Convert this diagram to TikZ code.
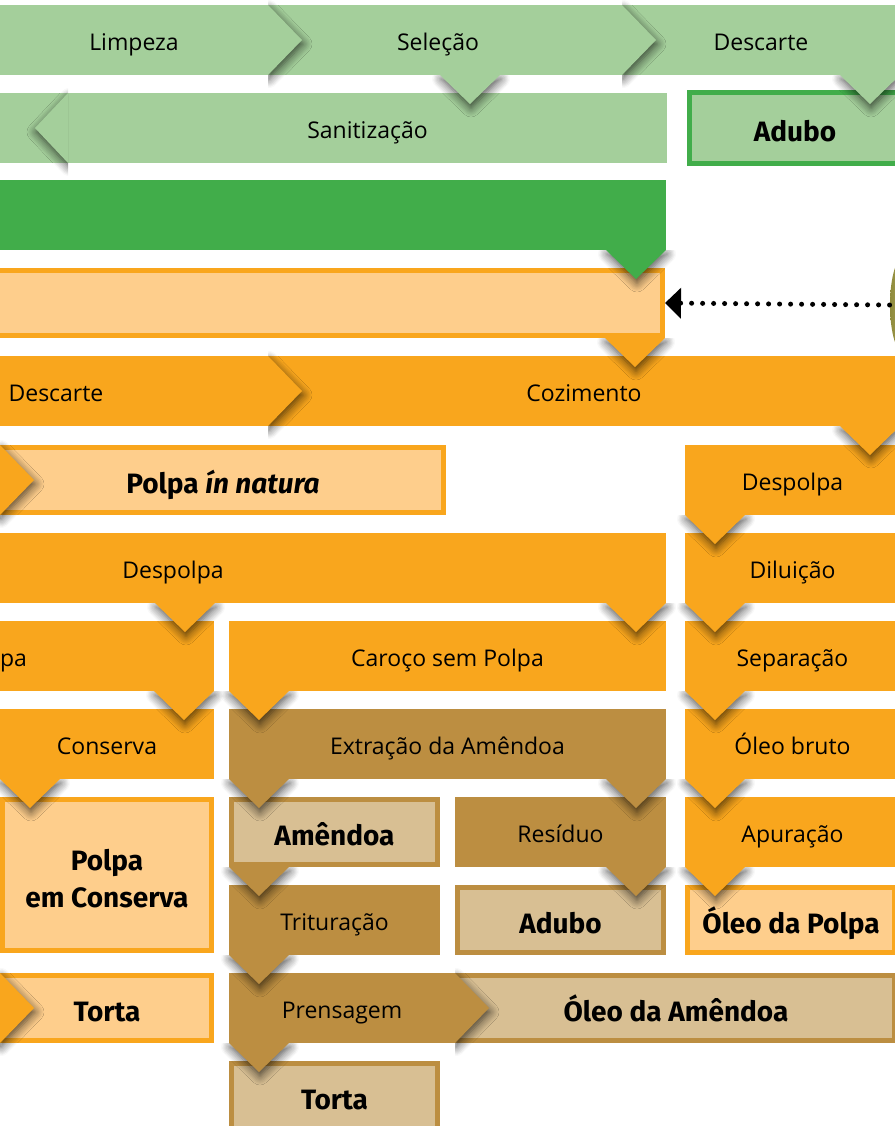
\documentclass[tikz,border=0pt]{standalone}
\usepackage{fontspec}
\setmainfont{Open Sans}
\newfontfamily\labelfont{Fira Sans}
\usetikzlibrary{shapes.geometric, arrows.meta, shadows.blur}

\definecolor{lgreen}{HTML}{A4CF9B}
\definecolor{dgreen}{HTML}{41AD4A}
\definecolor{orng}{HTML}{F9A61D}
\definecolor{lorng}{HTML}{FECE8C}
\definecolor{brwn}{HTML}{BC8E41}
\definecolor{tan}{HTML}{D8BF93}
\definecolor{olivefruit}{HTML}{8E8A3C}
\definecolor{yellowfruit}{HTML}{C9C06A}

% pointer below a box: base corner, colour
\newcommand\downtip[2]{%
  \begin{scope}
    \clip (#1) ++(-20,0) rectangle ++(100,60);
    \fill[#2, tipshadow] (#1) -- ++(30,29) -- ++(30,-29) -- cycle;
  \end{scope}}
% chevron tip to the right: top of its base, colour
\newcommand\sidetip[2]{%
  \begin{scope}
    \clip (#1) ++(0,-20) rectangle ++(60,110);
    \fill[#2, tipshadow] (#1) -- ++(34,35) -- ++(-34,35) -- cycle;
  \end{scope}}

\begin{document}
\begin{tikzpicture}[x=0.5pt, y=-0.5pt,
    band/.style = {rectangle, minimum height=35pt, inner sep=0pt, outer sep=0pt,
                   text height=10pt, text depth=0pt, font=\fontsize{11.5}{14}\selectfont},
    framed/.style = {rectangle, draw, line width=2.5pt, minimum height=32.5pt, inner sep=0pt,
                     text height=13pt, text depth=0pt,
                     font=\labelfont\bfseries\fontsize{14}{18.5}\selectfont},
    tipshadow/.style = {blur shadow={shadow xshift=0.5pt, shadow yshift=-2pt,
                        shadow blur radius=4.5pt, shadow blur steps=8, shadow opacity=70}},
    dotline/.style = {line width=2.5pt, line cap=round, dash pattern=on 0pt off 5.5pt,
                      -{Triangle[length=8pt, width=15pt]}}]
  \useasboundingbox (0,0) rectangle (895,1126);
  \clip (0,0) rectangle (895,1126);

  % green steps
  \node (descarteA) [band, fill=lgreen, minimum width=139pt] at (761,40) {Descarte};
  \node (selecao) [band, fill=lgreen, minimum width=177pt] at (445,40) {Seleção\hspace*{7pt}};
  \node (limpeza) [band, fill=lgreen, minimum width=134pt] at (134,40) {Limpeza};

  \fill[lgreen] (-20,93) rectangle (68,163);
  \node (sanitizacao) [band, fill=lgreen, minimum width=299.5pt] at (367.5,128) {Sanitização};
  \node (aduboA) [framed, draw=dgreen, fill=lgreen, minimum width=105.5pt, minimum height=35.5pt]
        at (795,128) {Adubo};

  \node (verde) [band, fill=dgreen, minimum width=333pt] at (333,215) {};

  % fruit
  \node (fruto) [framed, draw=orng, fill=lorng, minimum width=340pt] at (322.5,303) {};
  \node (fruta) [ellipse, minimum width=15pt, minimum height=50pt, inner sep=0pt,
                 left color=olivefruit, right color=yellowfruit] at (905,305) {};
  \draw[dotline] (fruta.west) -- (fruto.east);

  % orange steps
  \node (cozimento) [band, fill=orng, minimum width=316pt] at (584,391) {Cozimento};
  \node (descarteB) [band, fill=orng, minimum width=212pt] at (56,391) {Descarte};

  \node (natura) [framed, draw=orng, fill=lorng, minimum width=220.5pt] at (223,480)
        {Polpa \textit{ín natura}};
  \node (despolpaR) [band, fill=orng, minimum width=107.5pt] at (792.5,480) {Despolpa};

  \node (despolpaL) [band, fill=orng, minimum width=493pt] at (173,568) {Despolpa};
  \node (diluicao) [band, fill=orng, minimum width=107.5pt] at (792.5,568) {Diluição};

  \node (polpa) [band, fill=orng, minimum width=157pt] at (57,656) {};
  \node (polpaTxt) [band, anchor=east] at (27,656) {pa};
  \node (caroco) [band, fill=orng, minimum width=218.5pt] at (447.5,656) {Caroço sem Polpa};
  \node (separacao) [band, fill=orng, minimum width=107.5pt] at (792.5,656) {Separação};

  \node (conserva) [band, fill=orng, minimum width=107pt] at (107,744) {Conserva};
  \node (extracao) [band, fill=brwn, minimum width=218.5pt] at (447.5,744) {Extração da Amêndoa};
  \node (oleoBruto) [band, fill=orng, minimum width=107.5pt] at (792.5,744) {Óleo bruto};

  \node (polpaConserva) [framed, draw=orng, fill=lorng, minimum width=104.5pt, minimum height=75.5pt,
        text height=32pt, align=center] at (107,875) {Polpa\\em Conserva};
  \node (amendoa) [framed, draw=brwn, fill=tan, minimum width=103pt] at (334.5,832) {Amêndoa};
  \node (residuo) [band, fill=brwn, minimum width=105.5pt] at (560.5,832) {Resíduo};
  \node (apuracao) [band, fill=orng, minimum width=107.5pt] at (792.5,832) {Apuração};

  \node (trituracao) [band, fill=brwn, minimum width=105.5pt] at (334.5,920) {Trituração};
  \node (aduboB) [framed, draw=brwn, fill=tan, minimum width=103pt] at (560.5,920) {Adubo};
  \node (oleoPolpa) [framed, draw=orng, fill=lorng, minimum width=103.5pt] at (791,920) {Óleo da Polpa};

  \node (tortaA) [framed, draw=orng, fill=lorng, minimum width=104.5pt] at (107,1008) {Torta};
  \node (prensagem) [band, fill=brwn, minimum width=113pt] at (342,1008) {Prensagem};
  \node (oleoAmendoa) [framed, draw=brwn, fill=tan, minimum width=218.5pt] at (676,1008) {Óleo da Amêndoa};

  \node (tortaB) [framed, draw=brwn, fill=tan, minimum width=103pt] at (334.5,1096) {Torta};

  % chevron tips
  \sidetip{limpeza.north east}{lgreen}
  \sidetip{selecao.north east}{lgreen}
  \begin{scope}
    \clip (sanitizacao.north west) ++(0,-20) rectangle ++(-60,110);
    \fill[lgreen, tipshadow] (sanitizacao.north west) -- ++(-33,35) -- ++(33,35) -- cycle;
  \end{scope}
  \sidetip{descarteB.north east}{orng}
  \sidetip{natura.north west}{orng}
  \sidetip{tortaA.north west}{orng}
  \sidetip{prensagem.north east}{brwn}

  % pointers
  \downtip{[xshift=-2.5pt]selecao.south}{lgreen}
  \downtip{[xshift=-30pt]descarteA.south east}{lgreen}
  \downtip{[xshift=-30pt]verde.south east}{dgreen}
  \downtip{[xshift=-30pt]fruto.south east}{orng}
  \downtip{[xshift=-30pt]cozimento.south east}{orng}
  \downtip{despolpaR.south west}{orng}
  \downtip{[xshift=-255.5pt]despolpaL.south east}{orng}
  \downtip{[xshift=-30pt]despolpaL.south east}{orng}
  \downtip{diluicao.south west}{orng}
  \downtip{[xshift=-30pt]polpa.south east}{orng}
  \downtip{caroco.south west}{orng}
  \downtip{separacao.south west}{orng}
  \downtip{conserva.south west}{orng}
  \downtip{extracao.south west}{brwn}
  \downtip{[xshift=-30pt]extracao.south east}{brwn}
  \downtip{oleoBruto.south west}{orng}
  \downtip{amendoa.south west}{brwn}
  \downtip{[xshift=-30pt]residuo.south east}{brwn}
  \downtip{apuracao.south west}{orng}
  \downtip{trituracao.south west}{brwn}
  \downtip{prensagem.south west}{brwn}
\end{tikzpicture}
\end{document}
